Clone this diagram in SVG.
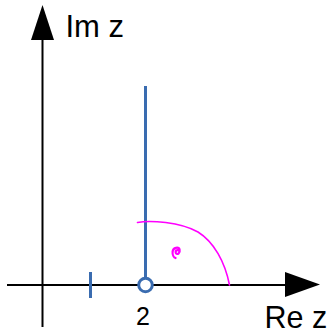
<svg xmlns="http://www.w3.org/2000/svg" width="335" height="334" viewBox="0 0 335 334">
<style>
.axis{stroke:#000;stroke-width:2;fill:none}
.head{fill:#000}
.blue{stroke:#3a6cb0;stroke-width:3;fill:none}
.mag{stroke:#ff00ff;stroke-width:1.6;fill:none;stroke-linecap:round}
.lbl{font-family:"Liberation Sans",Arial,sans-serif;fill:#000}
</style>
<rect width="335" height="334" fill="#fff"/>
<g id="axes">
<line class="axis" x1="42.5" y1="38" x2="42.5" y2="327"/>
<polygon class="head" points="42.5,5 54,40 31,40"/>
<line class="axis" x1="7" y1="285" x2="287" y2="285"/>
<polygon class="head" points="320,284.5 285,272 285,297"/>
</g>
<g id="tick">
<line class="blue" x1="90.5" y1="272" x2="90.5" y2="298"/>
</g>
<g id="ray">
<line class="blue" x1="145.5" y1="86" x2="145.5" y2="278"/>
<circle class="blue" cx="145.5" cy="285" r="6.8" style="fill:#fff"/>
</g>
<g id="arc">
<path class="mag" d="M137.5,222.5 C150,220 180,222 198,232 C214,242 225,262 229.5,285"/>
<path class="mag" style="stroke-width:2.2" d="M179,251 c-1.5,-2.2 -4.2,-0.3 -3,2.3 c1.5,2 4.3,-0.5 3.6,-3.6 c-0.8,-3.3 -6.5,-2.3 -7,1.8 c-0.4,3.6 1.5,6 3,6.5"/>
</g>
<g id="labels">
<text class="lbl" x="65.5" y="37" font-size="31">Im z</text>
<text class="lbl" x="264.5" y="328.3" font-size="30.5">Re z</text>
<text class="lbl" x="143" y="325" font-size="25" text-anchor="middle">2</text>
</g>
</svg>
